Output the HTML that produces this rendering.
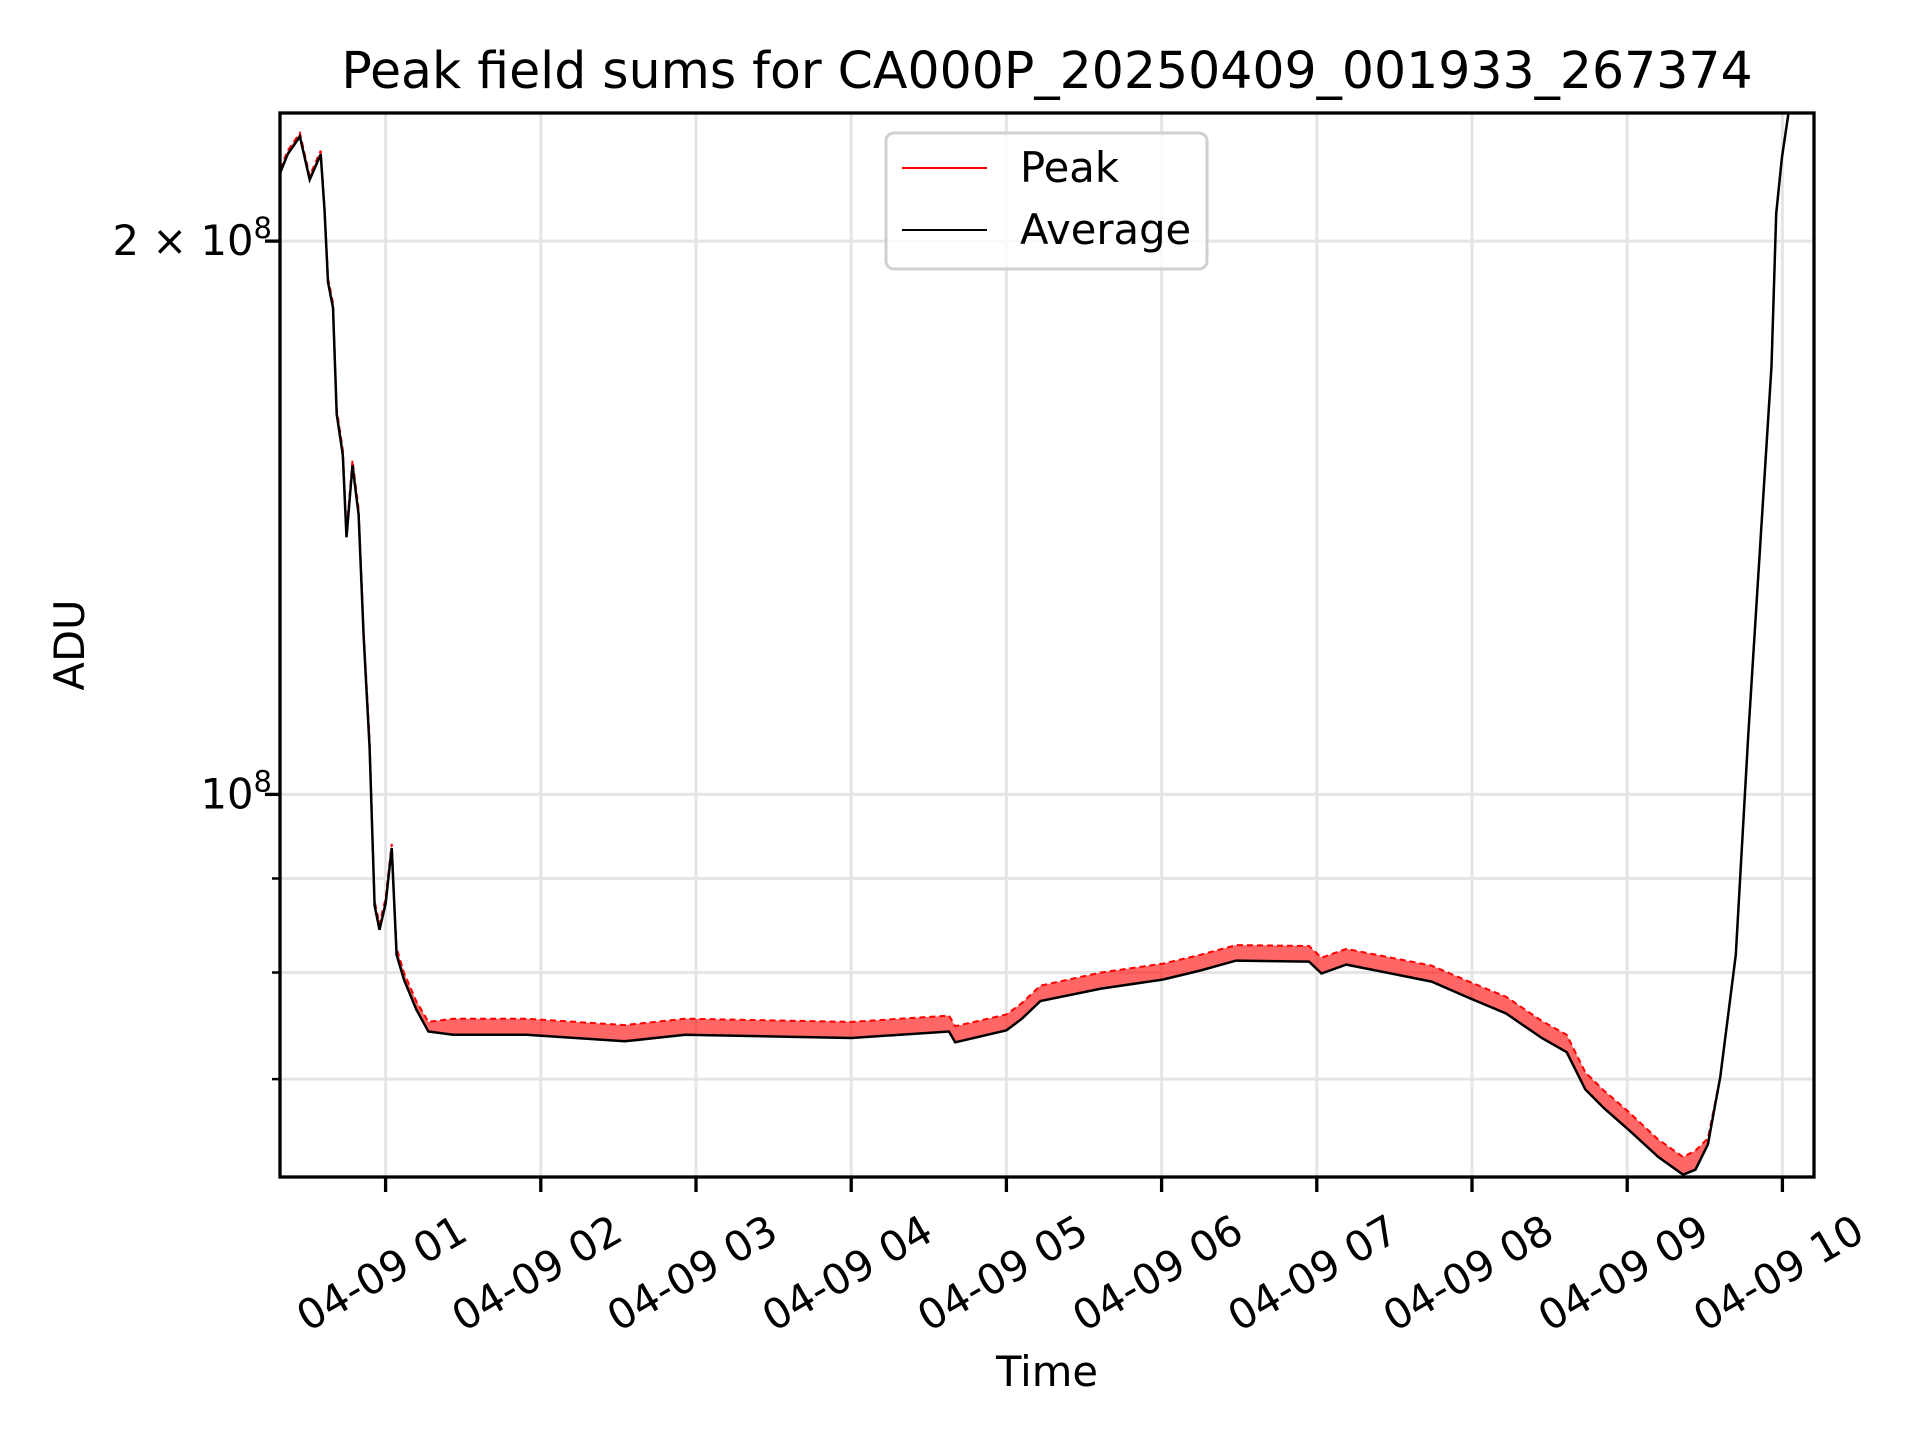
<!DOCTYPE html>
<html><head><meta charset="utf-8"><style>
html,body{margin:0;padding:0;background:#fff;}
svg{display:block;font-family:"DejaVu Sans","Liberation Sans",sans-serif;}
</style></head><body>
<svg id="chart" width="1920" height="1440" viewBox="0 0 1920 1440">
<rect width="1920" height="1440" fill="#fff"/>
<defs><clipPath id="clip"><rect x="280" y="113" width="1534" height="1064"/></clipPath></defs>
<g id="grid"></g>
<g id="series" clip-path="url(#clip)"></g>
<rect x="280" y="113" width="1534" height="1064" fill="none" stroke="#000" stroke-width="3.3"/>
<g id="ticks"></g>
<text x="1047" y="88" font-size="50.5" text-anchor="middle">Peak field sums for CA000P_20250409_001933_267374</text>
<text x="1047" y="1386" font-size="41.7" text-anchor="middle">Time</text>
<text transform="translate(84,645) rotate(-90)" font-size="41.7" text-anchor="middle">ADU</text>
<g>
<rect x="886" y="133" width="321" height="136" rx="8" fill="#fff" fill-opacity="0.8" stroke="#d0d0d0" stroke-width="3"/>
<line x1="902" y1="168" x2="987" y2="168" stroke="#f00" stroke-width="2"/>
<text x="1020" y="182" font-size="41.7">Peak</text>
<line x1="902" y1="230" x2="987" y2="230" stroke="#000" stroke-width="2"/>
<text x="1020" y="244" font-size="41.7">Average</text>
</g>
</svg>
<script>
const times=[0.322,0.369,0.448,0.511,0.582,0.606,0.629,0.661,0.685,0.724,0.748,0.787,0.826,0.858,0.897,0.929,0.961,1.0,1.039,1.071,1.118,1.197,1.276,1.434,1.907,2.54,2.93,4.0,4.63,4.67,5.0,5.10,5.22,5.61,6.01,6.25,6.48,6.95,7.03,7.19,7.74,7.98,8.22,8.45,8.61,8.73,8.85,9.0,9.20,9.36,9.44,9.52,9.60,9.70,9.78,9.86,9.93,9.96,9.997,10.04];
const avgValues=[2.18,2.23,2.28,2.16,2.23,2.08,1.90,1.84,1.61,1.53,1.38,1.51,1.42,1.22,1.06,0.870,0.844,0.872,0.935,0.818,0.793,0.764,0.743,0.740,0.740,0.734,0.740,0.737,0.743,0.733,0.744,0.755,0.772,0.784,0.793,0.802,0.812,0.811,0.799,0.808,0.791,0.775,0.760,0.737,0.724,0.691,0.675,0.658,0.635,0.621,0.625,0.645,0.702,0.818,1.078,1.38,1.71,2.07,2.22,2.35];
const peakValues=[2.19,2.24,2.29,2.17,2.24,2.09,1.91,1.85,1.62,1.54,1.39,1.52,1.43,1.23,1.07,0.875,0.85,0.878,0.94,0.825,0.80,0.772,0.752,0.755,0.755,0.749,0.755,0.752,0.758,0.748,0.759,0.770,0.787,0.800,0.809,0.818,0.828,0.827,0.815,0.824,0.807,0.791,0.776,0.753,0.740,0.706,0.690,0.673,0.649,0.635,0.640,0.650,0.702,0.818,1.078,1.38,1.71,2.07,2.22,2.35];
const xTickHours=[1,2,3,4,5,6,7,8,9,10];
const xTickLabels=["04-09 01","04-09 02","04-09 03","04-09 04","04-09 05","04-09 06","04-09 07","04-09 08","04-09 09","04-09 10"];
const yMajor=[2,1];
const yMajorMant=["2 \u00d7 10","10"];
const yMinor=[0.9,0.8,0.7];
const NS="http://www.w3.org/2000/svg";
function xs(t){return 385.6+(t-1)*155.2;}
function ys(v){return 794.4-1838*Math.log10(v);}
function mk(tag,attrs,parent){const e=document.createElementNS(NS,tag);for(const k in attrs)e.setAttribute(k,attrs[k]);parent.appendChild(e);return e;}
const grid=document.getElementById('grid'),ticks=document.getElementById('ticks'),series=document.getElementById('series');
xTickHours.forEach((h,i)=>{
  const x=xs(h);
  const g=mk('line',{x1:x,x2:x,y1:113,y2:1177,stroke:'#e5e5e5','stroke-width':3},grid);
  
  
  const t=mk('line',{x1:x,x2:x,y1:1177,y2:1192,stroke:'#000','stroke-width':3.3},ticks);
  
  
  const lb=mk('text',{'font-size':41.7,'text-anchor':'middle','dominant-baseline':'central',transform:`translate(${x-4},1273) rotate(-30)`},ticks);
  lb.textContent=xTickLabels[i];
  
  
});
yMajor.concat(yMinor).forEach((v,i)=>{
  const y=ys(v);
  const g=mk('line',{x1:280,x2:1814,y1:y,y2:y,stroke:'#e5e5e5','stroke-width':3},grid);
  
  
  const major=i<yMajor.length;
  const t=mk('line',{x1:major?265:272,x2:280,y1:y,y2:y,stroke:'#000','stroke-width':major?3.3:2.5},ticks);
  
  
  if(major){
    const lb=mk('text',{x:272,y:y+14,'font-size':41.7,'text-anchor':'end'},ticks);
    const a=document.createElementNS(NS,'tspan');a.textContent=yMajorMant[i];lb.appendChild(a);
    const b=document.createElementNS(NS,'tspan');b.setAttribute('dy','-17');b.setAttribute('font-size','29');b.textContent='8';lb.appendChild(b);
    
    
  }
});
const pPts=times.map((t,i)=>xs(t).toFixed(1)+','+ys(peakValues[i]).toFixed(1));
const aPts=times.map((t,i)=>xs(t).toFixed(1)+','+ys(avgValues[i]).toFixed(1));
const band=mk('polygon',{points:pPts.concat(aPts.slice().reverse()).join(' '),fill:'#f00','fill-opacity':0.6},series);


const pl=mk('polyline',{points:pPts.join(' '),fill:'none',stroke:'#f00','stroke-width':2,'stroke-dasharray':'6 4'},series);


const al=mk('polyline',{points:aPts.join(' '),fill:'none',stroke:'#000','stroke-width':2.5},series);


</script>
</body></html>
